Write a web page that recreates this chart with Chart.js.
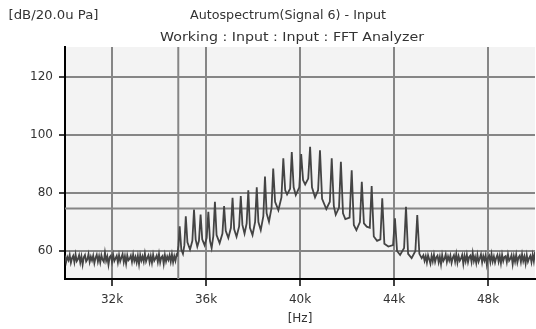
<!DOCTYPE html>
<html><head><meta charset="utf-8">
<script src="https://cdn.jsdelivr.net/npm/chart.js@4.4.1/dist/chart.umd.min.js"></script>
<style>html,body{margin:0;padding:0;background:#fff;overflow:hidden}</style>
</head><body>
<canvas id="c" width="536" height="329"></canvas>
<script>
// ---- data ----
const yUnitLabel = '[dB/20.0u Pa]';
const titleText = 'Autospectrum(Signal 6) - Input';
const subtitleText = 'Working : Input : Input : FFT Analyzer';
const xAxisTitle = '[Hz]';
const xTicks = [32000, 36000, 40000, 44000, 48000];
const yTicks = [60, 80, 100, 120];
const freqRange = [30000, 50000];
const levelRange = [50.3, 130.5];

// noise floor below the band (bins every 50 Hz starting 30.0 kHz)
const noiseLowStartHz = 30000;
const noiseBinHz = 50;
const noiseLow = [58.4, 56.2, 57.9, 56.8, 58.6, 55.9, 57.5, 58.3, 56.1, 58.8,
  56.5, 57.2, 58.5, 56.0, 58.1, 55.3, 57.8, 58.6, 56.4, 57.1,
  58.9, 56.2, 58.0, 56.7, 58.4, 55.8, 57.6, 58.7, 56.3, 58.2,
  56.0, 58.5, 57.0, 56.3, 59.4, 56.6, 58.1, 55.2, 57.9, 58.4,
  56.2, 58.7, 56.5, 57.4, 58.3, 56.0, 58.6, 56.4, 57.7, 58.9,
  56.1, 58.2, 55.6, 58.5, 56.8, 57.3, 58.4, 56.2, 58.8, 56.5,
  57.9, 56.0, 58.3, 55.4, 58.6, 56.7, 58.1, 56.3, 59.1, 56.4,
  57.6, 58.5, 56.1, 58.2, 55.9, 58.7, 56.6, 57.4, 58.4, 56.2,
  58.9, 56.0, 57.8, 58.3, 55.5, 58.6, 56.4, 58.1, 56.9, 58.5,
  56.3, 58.8, 56.1, 58.2, 56.6, 58.7];

// harmonic comb (kHz, dB)
const combFreqKHz = [34.78, 34.83, 34.88, 34.95, 35.02, 35.08, 35.14, 35.21, 35.32, 35.42,
  35.49, 35.56, 35.63, 35.70, 35.77, 35.84, 35.94, 36.03, 36.10, 36.17,
  36.24, 36.31, 36.38, 36.45, 36.58, 36.70, 36.77, 36.84, 36.95, 37.06,
  37.13, 37.20, 37.30, 37.41, 37.48, 37.55, 37.64, 37.73, 37.80, 37.87,
  37.98, 38.09, 38.16, 38.23, 38.33, 38.44, 38.51, 38.58, 38.68, 38.79,
  38.86, 38.94, 39.08, 39.21, 39.29, 39.37, 39.45, 39.58, 39.65, 39.73,
  39.82, 39.97, 40.05, 40.13, 40.22, 40.35, 40.43, 40.51, 40.64, 40.77,
  40.85, 40.94, 41.12, 41.27, 41.35, 41.44, 41.52, 41.66, 41.74, 41.83,
  41.93, 42.11, 42.20, 42.29, 42.40, 42.55, 42.63, 42.72, 42.84, 42.97,
  43.05, 43.14, 43.28, 43.42, 43.50, 43.59, 43.76, 43.96, 44.04, 44.13,
  44.26, 44.43, 44.51, 44.60, 44.75, 44.91, 44.99, 45.08, 45.18, 45.25];
const combLevel = [58.5, 62.0, 68.5, 60.5, 59.0, 62.0, 72.0, 63.0, 60.5, 63.5,
  74.3, 64.0, 61.5, 63.5, 72.6, 64.0, 62.0, 64.5, 73.5, 63.5,
  61.0, 65.0, 77.0, 65.5, 62.7, 66.0, 75.5, 67.0, 64.5, 68.0,
  78.4, 67.5, 64.9, 68.5, 79.0, 69.0, 66.0, 69.5, 81.0, 68.0,
  65.5, 70.0, 82.0, 70.0, 67.2, 72.0, 85.7, 73.0, 70.1, 75.0,
  88.5, 77.0, 74.1, 78.5, 92.0, 81.0, 79.5, 81.5, 94.2, 82.0,
  79.3, 82.0, 93.5, 84.5, 83.0, 85.0, 96.0, 82.0, 78.5, 81.0,
  94.8, 78.0, 74.5, 77.0, 92.0, 75.5, 72.5, 75.0, 90.8, 73.0,
  71.0, 71.5, 87.9, 69.0, 67.2, 70.0, 83.9, 69.5, 68.4, 68.0,
  82.4, 65.0, 63.5, 64.0, 78.2, 62.5, 61.5, 62.0, 71.3, 60.0,
  58.6, 61.0, 75.3, 59.0, 57.5, 60.0, 72.4, 59.0, 57.5, 58.5];

// noise floor above the band (bins every 50 Hz starting 45.3 kHz)
const noiseHighStartHz = 45300;
const noiseHigh = [56.6, 58.2, 56.0, 58.5, 57.1, 55.6, 58.3, 56.4, 58.7, 56.2,
  57.8, 58.4, 56.1, 58.0, 55.4, 58.6, 56.5, 57.3, 58.8, 56.2,
  58.1, 56.7, 58.4, 55.9, 57.6, 58.5, 56.3, 58.9, 56.0, 58.2,
  56.6, 57.4, 58.6, 55.5, 58.3, 56.4, 58.7, 56.1, 57.9, 58.4,
  56.2, 59.3, 56.5, 58.0, 55.8, 58.6, 56.3, 57.5, 58.8, 56.0,
  58.2, 56.7, 58.5, 55.3, 57.7, 58.4, 56.2, 58.9, 56.4, 58.1,
  56.0, 57.6, 58.6, 56.3, 58.3, 55.7, 58.7, 56.5, 57.9, 58.2,
  56.1, 58.8, 56.6, 57.3, 58.5, 55.4, 58.2, 56.3, 58.7, 56.0,
  57.8, 58.4, 56.2, 58.9, 56.5, 58.1, 55.6, 58.6, 56.3, 57.5,
  58.3, 56.1, 58.7, 56.4, 59.6];

// cursor lines
const cursorFreqHz = [34820];
const cursorLevelDb = [74.7];

// ---- build library data ----
const trace = [];
noiseLow.forEach((v, i) => trace.push({x: noiseLowStartHz + i * noiseBinHz, y: v}));
combFreqKHz.forEach((f, i) => trace.push({x: f * 1000, y: combLevel[i]}));
noiseHigh.forEach((v, i) => trace.push({x: noiseHighStartHz + i * noiseBinHz, y: v}));

const hCursor = [{x: freqRange[0], y: cursorLevelDb[0]}, {x: freqRange[1], y: cursorLevelDb[0]}];
const vCursor = [{x: cursorFreqHz[0], y: levelRange[0]}, {x: cursorFreqHz[0], y: levelRange[1]}];

const FONT = 'DejaVu Sans';
const TXT = '#333333';
const GRID = '#858585';

const bgPlugin = {
  id: 'bg',
  beforeDraw(chart) {
    const {ctx, chartArea: a} = chart;
    ctx.save();
    ctx.fillStyle = '#ffffff';
    ctx.fillRect(0, 0, chart.width, chart.height);
    ctx.fillStyle = '#f3f3f3';
    ctx.fillRect(a.left, a.top, a.right - a.left, a.bottom - a.top);
    ctx.restore();
  }
};

function fitText(ctx, text, x, y, width, align) {
  const w = ctx.measureText(text).width;
  const s = width / w;
  ctx.save();
  ctx.translate(x, y);
  ctx.scale(s, 1);
  ctx.textAlign = align;
  ctx.fillText(text, 0, 0);
  ctx.restore();
}

const headerPlugin = {
  id: 'header',
  afterDraw(chart) {
    const ctx = chart.ctx;
    ctx.save();
    ctx.font = '12px "' + FONT + '"';
    ctx.fillStyle = TXT;
    ctx.textBaseline = 'alphabetic';
    fitText(ctx, yUnitLabel, 8.5, 18.5, 90, 'left');
    fitText(ctx, titleText, 288, 18.5, 196, 'center');
    fitText(ctx, subtitleText, 292, 41, 264, 'center');
    ctx.restore();
  }
};

new Chart(document.getElementById('c'), {
  type: 'line',
  data: {
    datasets: [
      {data: trace, borderColor: '#444444', borderWidth: 1.8, pointRadius: 0, tension: 0, fill: false},
      {data: hCursor, borderColor: GRID, borderWidth: 2, pointRadius: 0, fill: false},
      {data: vCursor, borderColor: GRID, borderWidth: 2, pointRadius: 0, fill: false}
    ]
  },
  options: {
    responsive: false,
    devicePixelRatio: 1,
    animation: false,
    events: [],
    layout: {padding: {top: 47, right: 1, left: 0, bottom: 0}},
    plugins: {legend: {display: false}, tooltip: {enabled: false}, title: {display: false}},
    scales: {
      x: {
        type: 'linear',
        min: freqRange[0], max: freqRange[1],
        afterFit(s) { s.height = 50; },
        afterBuildTicks(s) { s.ticks = xTicks.map(v => ({value: v})); },
        grid: {color: GRID, lineWidth: 2, drawTicks: true, tickLength: 7, tickColor: '#000', tickWidth: 1.5},
        border: {display: true, color: '#000', width: 2},
        ticks: {
          color: TXT, font: {family: FONT, size: 12}, padding: 7, maxRotation: 0, autoSkip: false,
          callback: v => (v / 1000) + 'k'
        },
        title: {display: true, text: xAxisTitle, color: TXT, font: {family: FONT, size: 12}, padding: {top: 0, bottom: 3}}
      },
      y: {
        type: 'linear',
        min: levelRange[0], max: levelRange[1],
        afterFit(s) { s.width = 65; },
        afterBuildTicks(s) { s.ticks = yTicks.map(v => ({value: v})); },
        grid: {color: GRID, lineWidth: 2, drawTicks: true, tickLength: 6, tickColor: '#000', tickWidth: 1.5},
        border: {display: true, color: '#000', width: 2},
        ticks: {color: TXT, font: {family: FONT, size: 12}, padding: 6, autoSkip: false}
      }
    }
  },
  plugins: [bgPlugin, headerPlugin]
});
</script>
</body></html>
